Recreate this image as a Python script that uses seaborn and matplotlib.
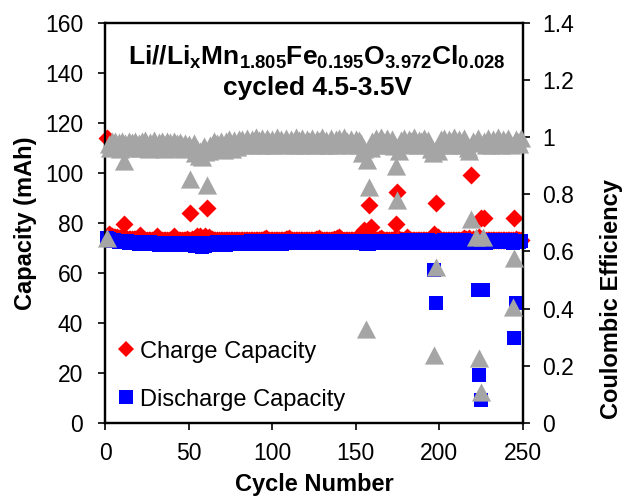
import matplotlib
matplotlib.use("Agg")
import matplotlib.pyplot as plt
import seaborn as sns
import pandas as pd
from matplotlib.lines import Line2D
from matplotlib.ticker import FuncFormatter

# ---------------- data ----------------
cycles = list(range(1, 250))

charge = [
    114.0, 75.6, 75.0, 74.6, 74.5, 74.3, 74.2, 74.0, 74.0, 73.9,
    79.5, 73.8, 73.7, 73.7, 73.6, 73.6, 73.5, 73.5, 73.4, 73.4,
    75.0, 73.4, 73.3, 73.3, 73.3, 73.2, 73.2, 73.2, 73.2, 73.1,
    74.8, 73.1, 73.1, 73.1, 73.1, 73.0, 73.1, 73.0, 73.0, 73.0,
    74.6, 73.0, 73.0, 73.0, 73.0, 73.0, 73.1, 73.0, 73.4, 73.0,
    83.8, 73.5, 73.0, 74.0, 74.6, 73.2, 74.9, 73.3, 74.0, 74.7,
    85.8, 74.5, 73.2, 73.4, 73.1, 73.0, 73.0, 73.0, 73.0, 73.0,
    73.1, 73.0, 73.1, 73.0, 73.1, 73.1, 73.0, 73.1, 73.0, 73.1,
    73.1, 73.0, 73.1, 73.1, 73.0, 73.1, 73.0, 73.1, 73.1, 73.0,
    73.1, 73.1, 73.0, 73.2, 73.5, 74.0, 73.2, 73.1, 73.1, 73.0,
    73.1, 73.1, 73.0, 73.1, 73.1, 73.0, 73.2, 73.4, 73.5, 73.9,
    73.2, 73.1, 73.1, 73.0, 73.1, 73.1, 73.0, 73.1, 73.1, 73.0,
    73.1, 73.1, 73.0, 73.1, 73.3, 73.5, 73.6, 74.0, 73.2, 73.1,
    73.1, 73.0, 73.1, 73.1, 73.2, 73.3, 73.4, 73.6, 73.8, 74.2,
    73.4, 73.1, 73.1, 73.2, 73.1, 73.1, 73.0, 73.1, 73.3, 73.6,
    73.8, 74.0, 73.5, 76.0, 77.0, 75.0, 76.0, 87.0, 78.5, 73.6,
    73.3, 73.2, 73.1, 73.5, 73.9, 73.4, 73.1, 73.1, 73.2, 73.1,
    73.1, 73.3, 73.6, 79.5, 92.5, 73.5, 73.3, 73.1, 73.1, 73.2,
    74.3, 73.4, 73.1, 73.1, 73.0, 73.1, 73.1, 73.0, 73.1, 73.1,
    73.0, 73.1, 73.1, 73.2, 73.4, 74.2, 75.5, 88.0, 74.5, 73.6,
    73.3, 73.1, 73.1, 73.0, 73.1, 73.1, 73.0, 73.1, 73.1, 73.0,
    73.1, 73.1, 73.2, 73.4, 73.8, 73.5, 73.3, 74.0, 99.0, 73.4,
    73.1, 73.6, 73.9, 74.2, 82.0, 73.5, 82.0, 73.2, 73.1, 73.0,
    73.1, 73.1, 73.0, 73.1, 73.1, 73.0, 73.1, 73.1, 73.0, 73.1,
    73.1, 73.0, 73.1, 73.1, 82.0, 73.4, 73.1, 73.0, 73.1,
]

discharge = [
    73.8, 73.6, 73.2, 72.9, 73.1, 72.6, 72.9, 72.4, 72.8, 72.3,
    72.7, 72.2, 72.6, 72.0, 72.5, 71.9, 72.4, 71.8, 72.4, 71.7,
    72.3, 71.6, 72.3, 71.5, 72.2, 71.5, 72.2, 71.4, 72.1, 71.4,
    72.1, 71.3, 72.1, 71.3, 72.0, 71.3, 72.1, 71.2, 72.0, 71.2,
    72.1, 71.2, 72.0, 71.1, 72.1, 71.2, 72.0, 71.1, 72.1, 71.0,
    72.0, 71.0, 72.1, 70.9, 72.0, 70.6, 72.0, 70.4, 71.9, 70.8,
    72.0, 71.0, 72.1, 71.1, 72.1, 71.2, 72.2, 71.2, 72.2, 71.3,
    72.3, 71.3, 72.3, 71.4, 72.4, 71.4, 72.4, 71.5, 72.4, 71.5,
    72.5, 71.5, 72.5, 71.6, 72.5, 71.6, 72.6, 71.6, 72.5, 71.6,
    72.6, 71.7, 72.6, 71.6, 72.6, 71.7, 72.6, 71.7, 72.7, 71.7,
    72.6, 71.7, 72.7, 71.8, 72.6, 71.7, 72.7, 71.8, 72.7, 71.8,
    72.7, 71.8, 72.7, 71.8, 72.8, 71.8, 72.7, 71.9, 72.8, 71.8,
    72.8, 71.9, 72.8, 71.9, 72.8, 71.9, 72.8, 71.9, 72.9, 71.9,
    72.8, 71.9, 72.9, 72.0, 72.8, 71.9, 72.9, 72.0, 72.9, 72.0,
    72.9, 72.0, 72.9, 72.0, 72.9, 72.0, 72.9, 72.0, 72.9, 72.0,
    72.9, 72.0, 72.9, 71.8, 72.6, 71.5, 72.5, 71.4, 72.6, 71.8,
    72.9, 72.0, 72.9, 72.0, 72.9, 72.0, 72.9, 72.1, 72.9, 72.0,
    72.9, 72.1, 72.9, 72.0, 72.8, 71.9, 72.9, 72.1, 72.9, 72.1,
    73.0, 72.1, 72.9, 72.1, 73.0, 72.1, 72.9, 72.1, 73.0, 72.2,
    72.9, 72.1, 73.0, 72.2, 72.9, 72.1, 61.0, 48.0, 72.8, 72.0,
    72.9, 72.1, 73.0, 72.1, 72.9, 72.2, 73.0, 72.2, 72.9, 72.1,
    73.0, 72.2, 72.9, 72.2, 73.0, 72.2, 72.9, 72.1, 72.5, 72.0,
    72.9, 72.1, 53.0, 19.0, 9.0, 53.3, 72.8, 72.1, 72.9, 72.2,
    73.0, 72.2, 72.9, 72.2, 73.0, 72.2, 72.9, 72.2, 73.0, 72.2,
    72.9, 72.2, 73.0, 72.1, 34.0, 48.0, 72.8, 72.2, 72.9,
]

efficiency = [
    0.646, 0.975, 0.962, 0.985, 0.968, 0.988, 0.972, 0.982, 0.960, 0.986,
    0.917, 0.978, 0.965, 0.988, 0.970, 0.983, 0.962, 0.987, 0.972, 0.980,
    0.963, 0.985, 0.969, 0.989, 0.974, 0.960, 0.984, 0.967, 0.990, 0.971,
    0.962, 0.983, 0.966, 0.988, 0.975, 0.959, 0.985, 0.970, 0.982, 0.963,
    0.987, 0.968, 0.979, 0.961, 0.984, 0.972, 0.958, 0.981, 0.966, 0.975,
    0.853, 0.962, 0.978, 0.945, 0.958, 0.935, 0.952, 0.930, 0.968, 0.948,
    0.832, 0.950, 0.972, 0.962, 0.985, 0.968, 0.978, 0.960, 0.986, 0.970,
    0.955, 0.985, 0.962, 0.992, 0.970, 0.958, 0.990, 0.975, 0.965, 0.993,
    0.978, 0.995, 0.974, 0.988, 0.998, 0.980, 0.973, 0.992, 0.985, 0.999,
    0.976, 0.990, 0.972, 0.996, 0.983, 0.974, 0.998, 0.987, 0.979, 0.994,
    0.973, 0.989, 0.999, 0.977, 0.992, 0.984, 0.972, 0.997, 0.981, 0.975,
    0.995, 0.986, 0.973, 0.999, 0.979, 0.991, 0.974, 0.996, 0.983, 0.972,
    0.993, 0.988, 0.975, 0.998, 0.980, 0.973, 0.994, 0.986, 0.977, 0.999,
    0.974, 0.990, 0.982, 0.973, 0.997, 0.985, 0.976, 0.992, 0.972, 0.996,
    0.984, 0.975, 0.999, 0.979, 0.988, 0.973, 0.995, 0.981, 0.976, 0.993,
    0.972, 0.990, 0.980, 0.945, 0.960, 0.327, 0.920, 0.827, 0.962, 0.985,
    0.976, 0.996, 0.973, 0.988, 0.999, 0.978, 0.984, 0.974, 0.997, 0.982,
    0.975, 0.992, 0.968, 0.900, 0.780, 0.950, 0.990, 0.976, 0.998, 0.981,
    0.973, 0.994, 0.987, 0.975, 0.999, 0.980, 0.972, 0.991, 0.985, 0.977,
    0.996, 0.974, 0.989, 0.981, 0.960, 0.945, 0.237, 0.546, 0.950, 0.972,
    0.993, 0.978, 0.998, 0.984, 0.973, 0.995, 0.982, 0.976, 0.999, 0.987,
    0.974, 0.992, 0.980, 0.973, 0.997, 0.975, 0.962, 0.950, 0.712, 0.985,
    0.978, 0.650, 0.996, 0.225, 0.109, 0.650, 0.985, 0.974, 0.998, 0.981,
    0.973, 0.994, 0.986, 0.976, 0.999, 0.982, 0.972, 0.993, 0.987, 0.975,
    0.997, 0.980, 0.973, 0.406, 0.576, 0.992, 0.984, 0.976, 0.998,
]

x_ticks = [0, 50, 100, 150, 200, 250]
y_left_ticks = [0, 20, 40, 60, 80, 100, 120, 140, 160]
y_right_ticks = [0, 0.2, 0.4, 0.6, 0.8, 1.0, 1.2, 1.4]

df = pd.DataFrame({"cycle": cycles, "charge": charge,
                   "discharge": discharge, "ce": efficiency})

# ---------------- style ----------------
sns.set_style("ticks")
plt.rcParams["font.family"] = ["Liberation Sans", "DejaVu Sans"]
plt.rcParams["mathtext.fontset"] = "custom"
plt.rcParams["mathtext.rm"] = "Liberation Sans"
plt.rcParams["mathtext.bf"] = "Liberation Sans:bold"
plt.rcParams["mathtext.it"] = "Liberation Sans:italic"
for k in ("text.color", "axes.labelcolor", "xtick.color", "ytick.color",
          "axes.edgecolor"):
    plt.rcParams[k] = "black"

RED = "#FF0000"
BLUE = "#0000FF"
GRAY = "#A5A5A5"

fig = plt.figure(figsize=(6.25, 4.97), dpi=100)
ax = fig.add_axes([0.1685, 0.1495, 0.8363 - 0.1685, 0.9537 - 0.1495])

tri = [(0, 0.95), (-1, -0.95), (1, -0.95)]

sns.scatterplot(data=df, x="cycle", y="charge", ax=ax, marker="D", s=84,
                color=RED, linewidth=0, clip_on=False, zorder=3)
sns.scatterplot(data=df, x="cycle", y="discharge", ax=ax, marker="s", s=106,
                color=BLUE, linewidth=0, clip_on=False, zorder=4)

ax2 = ax.twinx()
sns.scatterplot(data=df, x="cycle", y="ce", ax=ax2, marker=tri, s=190,
                color=GRAY, linewidth=0, clip_on=False, zorder=5)

ax.set_xlim(0, 250)
ax.set_ylim(0, 160)
ax2.set_ylim(0, 1.4)
ax.set_xticks(x_ticks)
ax.set_yticks(y_left_ticks)
ax2.set_yticks(y_right_ticks)
fmt = FuncFormatter(lambda v, p: f"{v:g}")
ax2.yaxis.set_major_formatter(fmt)

for a in (ax, ax2):
    for sp in a.spines.values():
        sp.set_linewidth(1.6)
        sp.set_color("black")

ax.tick_params(axis="both", direction="out", length=5, width=1.2,
               labelsize=16.5, colors="black", pad=9)
ax.tick_params(axis="y", pad=11)
ax2.tick_params(axis="y", direction="out", length=5, width=1.2,
                labelsize=16.5, colors="black", pad=9)

ax.set_xlabel("Cycle Number", fontsize=17, fontweight="bold", color="black")
ax.set_ylabel("Capacity (mAh)", fontsize=17, fontweight="bold", color="black")
ax2.set_ylabel("Coulombic Efficiency", fontsize=17, fontweight="bold", color="black")
ax.xaxis.set_label_coords(0.5, -0.125)
ax.yaxis.set_label_coords(-0.163, 0.5)
ax2.yaxis.set_label_coords(1.185, 0.31)

ax.text(0.506, 0.895,
        r"Li//Li$_\mathbf{x}$Mn$_\mathbf{1.805}$Fe$_\mathbf{0.195}$O$_\mathbf{3.972}$Cl$_\mathbf{0.028}$",
        transform=ax.transAxes, ha="center", va="baseline",
        fontsize=19, fontweight="bold", color="black", zorder=10)
ax.text(0.509, 0.82, "cycled 4.5-3.5V", transform=ax.transAxes,
        ha="center", va="baseline", fontsize=19, fontweight="bold",
        color="black", zorder=10)

handles = [
    Line2D([], [], marker="D", linestyle="none", markersize=8,
           markerfacecolor=RED, markeredgewidth=0, label="Charge Capacity"),
    Line2D([], [], marker="s", linestyle="none", markersize=10.5,
           markerfacecolor=BLUE, markeredgewidth=0, label="Discharge Capacity"),
]
leg = ax.legend(handles=handles, loc="lower left", bbox_to_anchor=(0.03, 0.03),
                frameon=False, fontsize=17, handlelength=0.7,
                handletextpad=0.25, labelspacing=1.1, borderpad=0,
                borderaxespad=0, labelcolor="black")
leg.set_zorder(20)

fig.savefig("out.png", dpi=100)
